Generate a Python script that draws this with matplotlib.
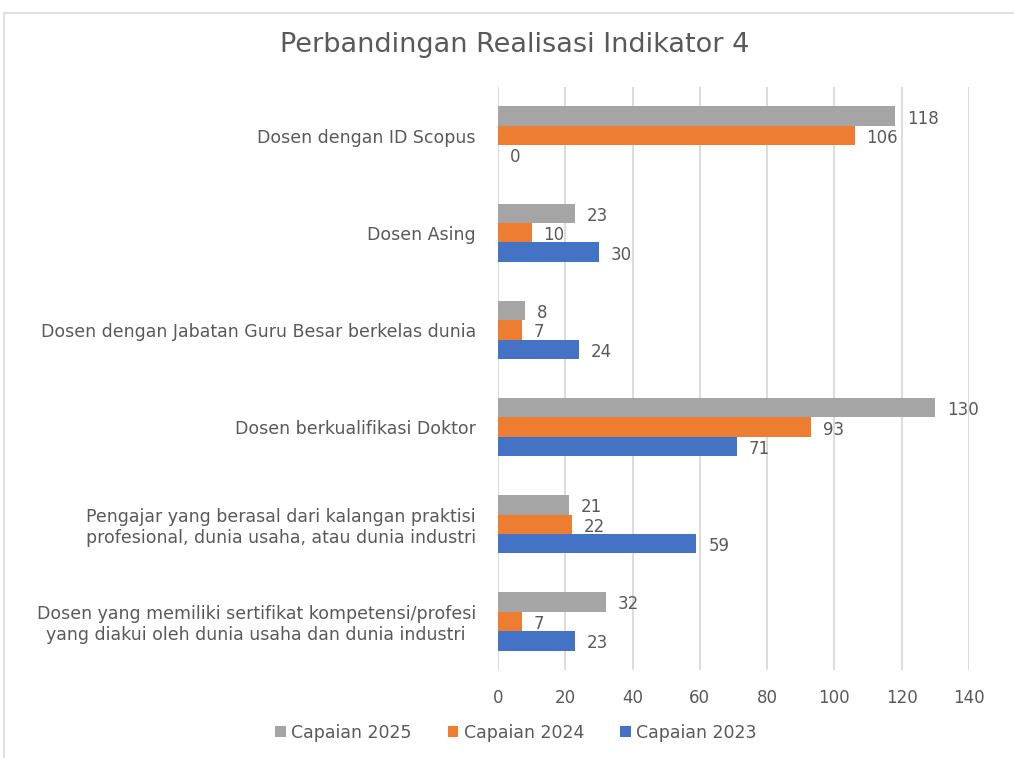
import matplotlib
matplotlib.use("Agg")
import matplotlib.pyplot as plt
from matplotlib.patches import Rectangle, Patch
import numpy as np

plt.rcParams['font.family'] = ['DejaVu Sans']

categories = [
    "Dosen dengan ID Scopus",
    "Dosen Asing",
    "Dosen dengan Jabatan Guru Besar berkelas dunia",
    "Dosen berkualifikasi Doktor",
    "Pengajar yang berasal dari kalangan praktisi\nprofesional, dunia usaha, atau dunia industri",
    "Dosen yang memiliki sertifikat kompetensi/profesi\nyang diakui oleh dunia usaha dan dunia industri",
]
capaian_2025 = [118, 23, 8, 130, 21, 32]
capaian_2024 = [106, 10, 7, 93, 22, 7]
capaian_2023 = [0, 30, 24, 71, 59, 23]
series_names = ["Capaian 2025", "Capaian 2024", "Capaian 2023"]
xticks = [0, 20, 40, 60, 80, 100, 120, 140]

colors = ["#A5A5A5", "#ED7D31", "#4472C4"]
text_color = "#595959"

fig = plt.figure(figsize=(10.14, 7.58), dpi=100)
fig.patches.append(Rectangle((4/1014, -0.01), 1.02, 1 - 13/758 + 0.01,
                             transform=fig.transFigure, fill=False,
                             edgecolor="#D9D9D9", linewidth=1.2))
ax = fig.add_axes([498/1014, 1 - 670/758, (969 - 498)/1014, (670 - 87)/758])

n = len(categories)
y = np.arange(n)
h = 0.2
series = [capaian_2025, capaian_2024, capaian_2023]
offsets = [-h, 0, h]
for vals, off, c in zip(series, offsets, colors):
    bars = ax.barh(y + off, vals, height=h, color=c, zorder=3)
    for b, v in zip(bars, vals):
        ax.text(v + 3.5, b.get_y() + b.get_height()/2 + 0.025, str(v),
                va='center', ha='left', fontsize=12, color=text_color)

ax.set_xlim(0, 140)
ax.set_ylim(n - 0.5, -0.5)
ax.set_xticks(xticks)
ax.set_xticklabels([str(t) for t in xticks], fontsize=12, color=text_color)
ax.set_yticks(y)
ax.set_yticklabels(categories, fontsize=12.5, color=text_color, ha='right',
                   multialignment='center', linespacing=1.2)
ax.tick_params(axis='y', length=0, pad=16)
ax.tick_params(axis='x', length=0, pad=14)

ax.grid(axis='x', color="#D9D9D9", linewidth=1.3, zorder=0)
for s in ax.spines.values():
    s.set_visible(False)

fig.text(515/1014, 1 - 45/758, "Perbandingan Realisasi Indikator 4",
         ha='center', va='center', fontsize=19.5, color=text_color)

handles = [Patch(facecolor=c, edgecolor='none') for c in colors]
fig.legend(handles, series_names, loc='center', bbox_to_anchor=(516/1014, 1 - 733/758),
           ncol=3, frameon=False, fontsize=12.5, labelcolor=text_color,
           handlelength=0.6, handleheight=0.6, handletextpad=0.3, columnspacing=2.1)

fig.savefig("out.png", dpi=100)
